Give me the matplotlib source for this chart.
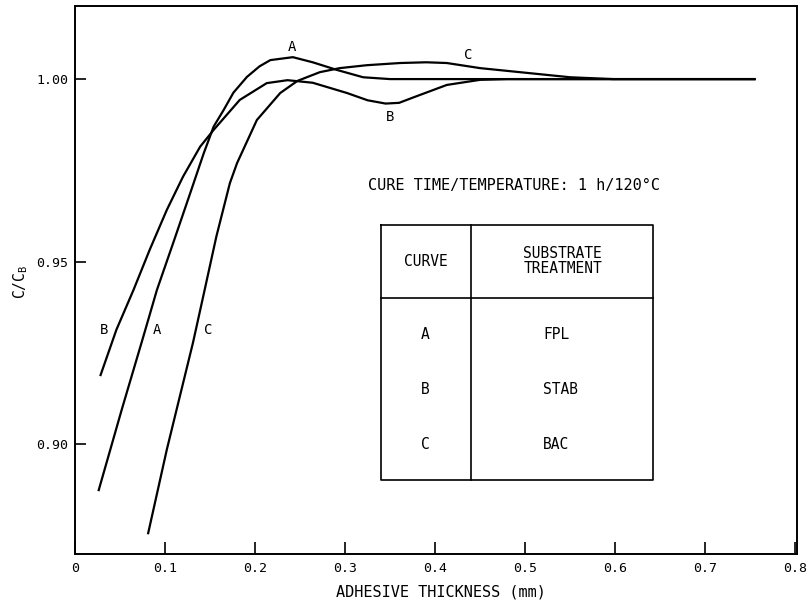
import matplotlib
matplotlib.use('Agg')
import matplotlib.pyplot as plt

# curve A (FPL)
a_x = [0.026, 0.052, 0.076, 0.091, 0.109, 0.128, 0.143, 0.154, 0.165, 0.176,
       0.191, 0.205, 0.217, 0.242, 0.264, 0.291, 0.320, 0.350, 0.756]
a_y = [0.8872, 0.9096, 0.9296, 0.9423, 0.9551, 0.9688, 0.9797, 0.9870, 0.9915, 0.9963,
       1.0006, 1.0035, 1.0052, 1.0060, 1.0046, 1.0025, 1.0005, 1.000, 1.000]

# curve B (STAB)
b_x = [0.028, 0.046, 0.065, 0.083, 0.102, 0.120, 0.139, 0.154, 0.183, 0.213,
       0.236, 0.264, 0.302, 0.325, 0.345, 0.360, 0.376, 0.413, 0.450, 0.480, 0.756]
b_y = [0.9187, 0.9314, 0.9423, 0.9533, 0.9642, 0.9733, 0.9815, 0.9861, 0.9943, 0.9989,
       0.9997, 0.999, 0.9962, 0.9942, 0.9933, 0.9935, 0.995, 0.9984, 0.9998, 1.000, 1.000]

# curve C (BAC)
c_x = [0.081, 0.102, 0.115, 0.131, 0.144, 0.157, 0.172, 0.180, 0.202, 0.228,
       0.247, 0.272, 0.294, 0.324, 0.361, 0.390, 0.413, 0.450, 0.506, 0.550, 0.598, 0.756]
c_y = [0.8754, 0.8986, 0.9117, 0.9278, 0.9423, 0.9569, 0.9715, 0.977, 0.9888, 0.9962,
       0.9995, 1.0019, 1.003, 1.0038, 1.0044, 1.0046, 1.0044, 1.003, 1.0016, 1.0005, 1.000, 1.000]

x_ticks = [0, 0.1, 0.2, 0.3, 0.4, 0.5, 0.6, 0.7, 0.8]
x_labels = ['0', '0.1', '0.2', '0.3', '0.4', '0.5', '0.6', '0.7', '0.8']
y_ticks = [0.90, 0.95, 1.00]
y_labels = ['0.90', '0.95', '1.00']

table_curves = ['A', 'B', 'C']
table_treatments = ['FPL', 'STAB', 'BAC']

plt.rcParams['font.family'] = ['DejaVu Sans Mono']
plt.rcParams['mathtext.fontset'] = 'custom'
plt.rcParams['mathtext.rm'] = 'DejaVu Sans Mono'

fig = plt.figure(figsize=(8.1, 6.09), dpi=100)
ax = fig.add_axes([0.0926, 0.0903, 0.8914, 0.8998])

for xs, ys in [(a_x, a_y), (b_x, b_y), (c_x, c_y)]:
    ax.plot(xs, ys, color='black', lw=1.6, solid_capstyle='butt')

ax.set_xlim(0, 0.802)
ax.set_ylim(0.870, 1.020)
ax.set_xticks(x_ticks)
ax.set_xticklabels(x_labels)
ax.set_yticks(y_ticks)
ax.set_yticklabels(y_labels)
ax.tick_params(axis='x', direction='in', length=9, width=1.2, pad=6, labelsize=9.5)
ax.tick_params(axis='y', direction='in', length=8, width=1.2, pad=5, labelsize=9.5)
for s in ax.spines.values():
    s.set_linewidth(1.4)

fs = 10
# curve labels
ax.text(0.241, 1.0088, 'A', fontsize=fs, ha='center', va='center')
ax.text(0.350, 0.9896, 'B', fontsize=fs, ha='center', va='center')
ax.text(0.437, 1.0066, 'C', fontsize=fs, ha='center', va='center')
ax.text(0.032, 0.9314, 'B', fontsize=fs, ha='center', va='center')
ax.text(0.091, 0.9314, 'A', fontsize=fs, ha='center', va='center')
ax.text(0.148, 0.9314, 'C', fontsize=fs, ha='center', va='center')

ax.text(0.4872, 0.971, 'CURE TIME/TEMPERATURE: 1 h/120°C', fontsize=11,
        ha='center', va='center')

# table box
tl, tm, tr = 0.34, 0.44, 0.642
tt, th, tb = 0.9601, 0.9402, 0.8902
lk = dict(color='black', lw=1.2)
ax.plot([tl, tr, tr, tl, tl], [tt, tt, tb, tb, tt], **lk)
ax.plot([tm, tm], [tt, tb], **lk)
ax.plot([tl, tr], [th, th], **lk)
tfs = 10.5
ax.text(0.3894, 0.9501, 'CURVE', fontsize=tfs, ha='center', va='center')
ax.text(0.5415, 0.9501, 'SUBSTRATE\nTREATMENT', fontsize=tfs, ha='center',
        va='center', linespacing=1.0)
row_y = [0.9300, 0.9150, 0.9000]
for name, treat, ry in zip(table_curves, table_treatments, row_y):
    ax.text(0.3894, ry, name, fontsize=tfs, ha='center', va='center')
    ax.text(0.5197, ry, treat, fontsize=tfs, ha='left', va='center')

fig.text(0.544, 0.028, 'ADHESIVE THICKNESS (mm)', fontsize=11,
         ha='center', va='center')
fig.text(0.025, 0.537, 'C/C$_\\mathregular{B}$', fontsize=10.5,
         rotation=90, ha='center', va='center')

fig.savefig('out.png', dpi=100)
